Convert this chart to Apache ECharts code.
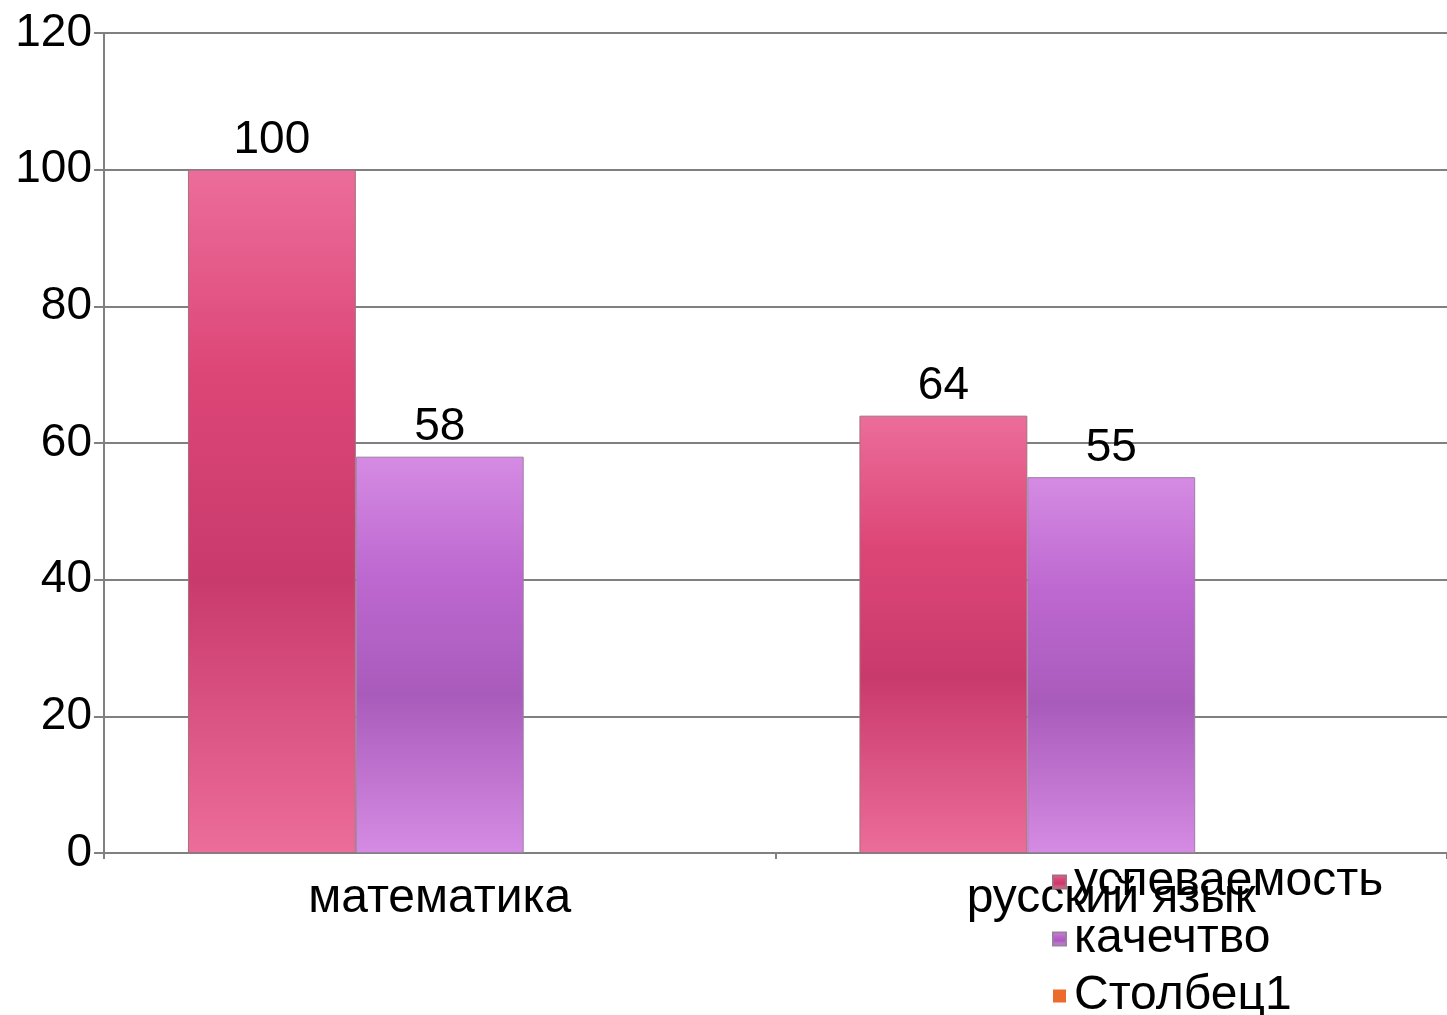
<!DOCTYPE html>
<html>
<head>
<meta charset="utf-8">
<script src="https://cdn.jsdelivr.net/npm/echarts@6/dist/echarts.min.js"></script>
<style>
  html, body { margin: 0; padding: 0; background: #fff; }
  #chart { width: 1447px; height: 1015px; }
</style>
</head>
<body>
<div id="chart"></div>
<script>
// данные
var categories = ['математика', 'русский язык'];
var uspevaemost = [100, 64];
var kachestvo = [58, 55];
var stolbec1 = [];
var seriesNames = ['успеваемость', 'качечтво', 'Столбец1'];

var font = '"Liberation Sans", Arial, sans-serif';

function grad(edge, mid, deep) {
  return new echarts.graphic.LinearGradient(0, 0, 0, 1, [
    { offset: 0, color: edge },
    { offset: 0.3, color: mid },
    { offset: 0.6, color: deep },
    { offset: 1, color: edge }
  ]);
}

var barLabel = {
  show: true,
  position: 'top',
  distance: 6,
  color: '#000',
  fontFamily: font,
  fontSize: 46
};

var chart = echarts.init(document.getElementById('chart'));
chart.setOption({
  animation: false,
  color: ['#d63d75', '#b35fc8', '#ec6a2c'],
  grid: { left: 104, right: -8, top: 33, bottom: 162 },
  legend: {
    orient: 'vertical',
    left: 1052,
    top: 858,
    height: 220,
    padding: 0,
    itemWidth: 13,
    itemHeight: 13,
    itemGap: 9,
    icon: 'rect',
    data: seriesNames,
    textStyle: { color: '#000', fontFamily: font, fontSize: 48, lineHeight: 48, padding: [0, 0, 0, 3] }
  },
  xAxis: {
    type: 'category',
    data: categories,
    axisLine: { lineStyle: { color: '#808080', width: 2 } },
    axisTick: { show: true, length: 6, lineStyle: { color: '#808080', width: 2 } },
    axisLabel: { color: '#000', fontFamily: font, fontSize: 48, margin: 22 }
  },
  yAxis: {
    type: 'value',
    min: 0,
    max: 120,
    interval: 20,
    axisLine: { show: true, lineStyle: { color: '#808080', width: 2 } },
    axisTick: { show: true, length: 10, lineStyle: { color: '#808080', width: 2 } },
    axisLabel: { color: '#000', fontFamily: font, fontSize: 46, margin: 12 },
    splitLine: { lineStyle: { color: '#808080', width: 2 } }
  },
  series: [
    {
      name: seriesNames[0],
      type: 'bar',
      data: uspevaemost,
      barGap: '0%',
      barCategoryGap: '25%',
      label: barLabel,
      itemStyle: { color: grad('#ec6d9a', '#dc4677', '#c93a6c'), borderColor: '#a07080', borderWidth: 1 }
    },
    {
      name: seriesNames[1],
      type: 'bar',
      data: kachestvo,
      label: barLabel,
      itemStyle: { color: grad('#d58be3', '#bd68d0', '#a95bbb'), borderColor: '#9a80a0', borderWidth: 1 }
    },
    {
      name: seriesNames[2],
      type: 'bar',
      data: stolbec1,
      itemStyle: { color: '#ec6a2c' }
    }
  ]
});
</script>
</body>
</html>
